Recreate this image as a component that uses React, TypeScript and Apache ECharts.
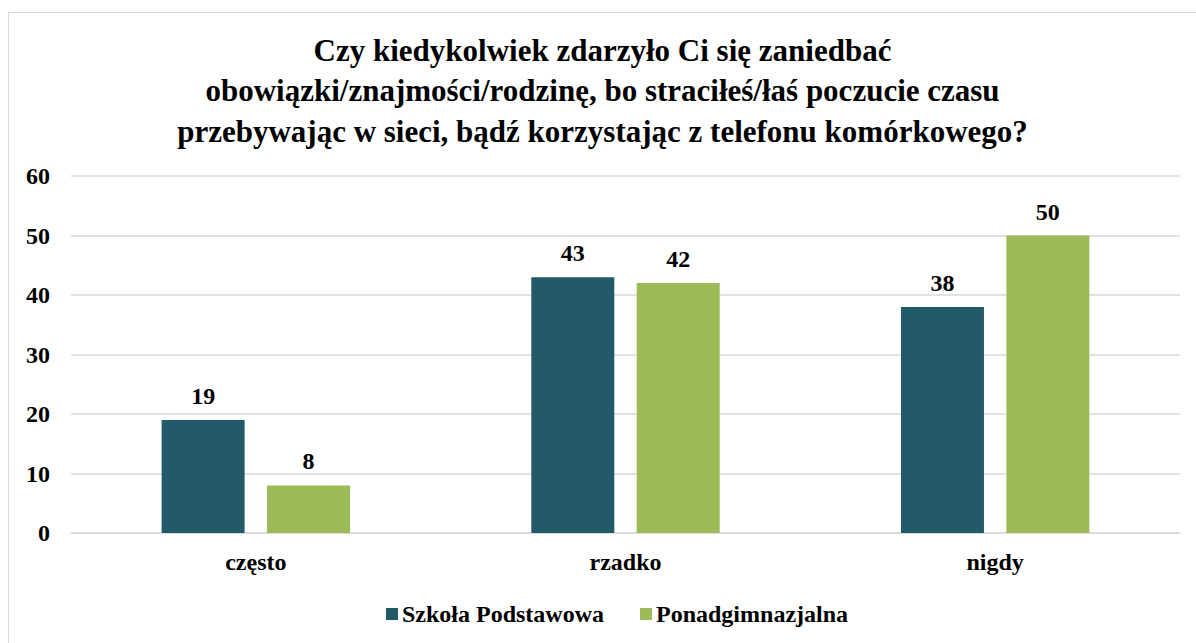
import React, { useEffect, useRef } from "react";
import * as echarts from "echarts";

const titleText =
  "Czy kiedykolwiek zdarzyło Ci się zaniedbać\nobowiązki/znajmości/rodzinę, bo straciłeś/łaś poczucie czasu\nprzebywając w sieci, bądź korzystając z telefonu komórkowego?";
const categories = ["często", "rzadko", "nigdy"];
const seriesNames = ["Szkoła Podstawowa", "Ponadgimnazjalna"];
const podstawowa = [19, 43, 38];
const ponadgimnazjalna = [8, 42, 50];
const yMin = 0;
const yMax = 60;
const yStep = 10;
const colors = ["#235A6A", "#9BBB59"];

const FONT = "Liberation Serif";

export default function App() {
  const ref = useRef<HTMLDivElement>(null);
  useEffect(() => {
    if (!ref.current) return;
    const chart = echarts.init(ref.current, undefined, { renderer: "svg" });
    const labelStyle = {
      show: true,
      position: "top" as const,
      distance: 12,
      fontFamily: FONT,
      fontWeight: "bold" as const,
      fontSize: 24,
      color: "#000",
    };
    chart.setOption({
      animation: false,
      color: colors,
      textStyle: { fontFamily: FONT },
      title: {
        text: titleText,
        left: "center",
        top: 12,
        textStyle: {
          fontFamily: FONT,
          fontWeight: "bold",
          fontSize: 31,
          lineHeight: 40.5,
          color: "#000",
        },
      },
      grid: { left: 62, right: 16, top: 163, height: 357 },
      legend: {
        top: 584,
        left: 372,
        itemWidth: 12,
        itemHeight: 12,
        itemGap: 36,
        icon: "rect",
        textStyle: {
          fontFamily: FONT,
          fontWeight: "bold",
          fontSize: 24,
          color: "#000",
          padding: [0, 0, 0, -1],
        },
        data: seriesNames,
      },
      xAxis: {
        type: "category",
        data: categories,
        axisLine: { show: true, lineStyle: { color: "#d9d9d9", width: 1.5 } },
        axisTick: { show: false },
        axisLabel: {
          margin: 17,
          fontFamily: FONT,
          fontWeight: "bold",
          fontSize: 24,
          color: "#000",
        },
      },
      yAxis: {
        type: "value",
        min: yMin,
        max: yMax,
        interval: yStep,
        axisLine: { show: false },
        axisTick: { show: false },
        splitLine: { lineStyle: { color: "#d9d9d9", width: 1.5 } },
        axisLabel: {
          margin: 21,
          fontFamily: FONT,
          fontWeight: "bold",
          fontSize: 24,
          color: "#000",
        },
      },
      series: [
        {
          name: seriesNames[0],
          type: "bar",
          data: podstawowa,
          barWidth: 83,
          barGap: "27%",
          label: labelStyle,
        },
        {
          name: seriesNames[1],
          type: "bar",
          data: ponadgimnazjalna,
          barWidth: 83,
          barGap: "27%",
          label: labelStyle,
        },
      ],
    });
    return () => chart.dispose();
  }, []);
  return (
    <div
      style={{
        position: "absolute",
        left: 8,
        top: 12,
        width: 1188,
        height: 631,
        borderLeft: "1px solid #d9d9d9",
        borderTop: "1px solid #d9d9d9",
        boxSizing: "border-box",
        background: "#fff",
      }}
    >
      <div ref={ref} style={{ width: 1187, height: 630 }} />
    </div>
  );
}
